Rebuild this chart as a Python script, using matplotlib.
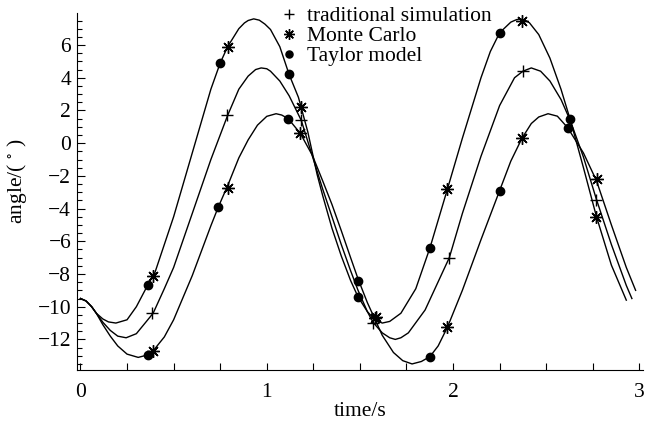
import numpy as np
import matplotlib
matplotlib.use("Agg")
import matplotlib.pyplot as plt
from matplotlib.ticker import MultipleLocator

# three curves (upper / middle / lower)
upper_t = [0, 0.03, 0.06, 0.085, 0.12, 0.15, 0.19, 0.25, 0.3, 0.36, 0.4, 0.5, 0.6, 0.7, 0.75, 0.79,
           0.85, 0.88, 0.9, 0.93, 0.96, 0.99, 1.02, 1.07, 1.12, 1.17, 1.22, 1.27, 1.3, 1.35, 1.4,
           1.45, 1.49, 1.54, 1.58, 1.62, 1.66, 1.72, 1.8, 1.876, 1.97, 2.05, 2.15, 2.2, 2.25,
           2.31, 2.34, 2.36, 2.39, 2.41, 2.46, 2.52, 2.58, 2.63, 2.7, 2.77, 2.85, 2.93]
upper_v = [-9.5, -9.65, -10.0, -10.4, -10.75, -10.93, -11.0, -10.8, -10.0, -8.7, -7.9, -4.5, -0.6,
           3.3, 4.9, 5.9, 7.0, 7.35, 7.5, 7.6, 7.52, 7.28, 6.95, 5.9, 4.2, 2.8, 0.7, -1.9, -3.2,
           -5.2, -6.9, -8.4, -9.4, -10.3, -10.8, -11.0, -10.9, -10.4, -8.9, -6.4, -2.8, 0.3, 4.0,
           5.6, 6.75, 7.4, 7.55, 7.6, 7.5, 7.36, 6.64, 5.2, 3.28, 1.4, -1.5, -4.5, -7.46, -9.6]

middle_t = [0, 0.03, 0.06, 0.085, 0.12, 0.16, 0.2, 0.245, 0.3, 0.39, 0.45, 0.5, 0.6, 0.7, 0.79,
            0.85, 0.9, 0.94, 0.97, 1.0, 1.02, 1.07, 1.12, 1.185, 1.245, 1.3, 1.35, 1.4, 1.45, 1.49,
            1.54, 1.57, 1.62, 1.66, 1.69, 1.72, 1.76, 1.85, 1.98, 2.05, 2.15, 2.25, 2.33, 2.375,
            2.42, 2.47, 2.52, 2.58, 2.63, 2.7, 2.77, 2.85, 2.93, 2.96]
middle_v = [-9.5, -9.65, -10.0, -10.4, -10.95, -11.45, -11.8, -11.9, -11.65, -10.4, -8.9, -7.6,
            -4.3, -1.0, 1.7, 3.3, 4.1, 4.5, 4.6, 4.55, 4.4, 3.8, 2.9, 1.4, -0.8, -2.8, -4.5, -6.2,
            -7.8, -9.0, -10.3, -10.95, -11.6, -11.9, -12.0, -11.9, -11.6, -10.2, -7.0, -4.3, -0.8,
            2.3, 4.0, 4.4, 4.6, 4.4, 3.8, 2.66, 1.36, -0.85, -3.45, -6.2, -8.7, -9.5]

lower_t = [0, 0.03, 0.06, 0.085, 0.12, 0.16, 0.2, 0.25, 0.31, 0.36, 0.39, 0.45, 0.5, 0.6, 0.7,
           0.74, 0.79, 0.85, 0.9, 0.95, 1.0, 1.05, 1.08, 1.115, 1.18, 1.245, 1.3, 1.35, 1.4, 1.45,
           1.49, 1.54, 1.58, 1.62, 1.68, 1.73, 1.78, 1.83, 1.876, 1.92, 1.97, 2.05, 2.15, 2.25,
           2.31, 2.37, 2.42, 2.46, 2.51, 2.56, 2.615, 2.7, 2.77, 2.85, 2.93, 2.98]
lower_v = [-9.5, -9.65, -10.0, -10.4, -11.1, -11.8, -12.4, -12.9, -13.1, -12.95, -12.7, -11.85,
           -10.8, -8.1, -5.05, -3.9, -2.6, -0.9, 0.2, 1.1, 1.64, 1.8, 1.72, 1.5, 0.6, -0.75, -2.3,
           -3.75, -5.35, -7.0, -8.3, -9.75, -10.75, -11.75, -12.8, -13.3, -13.5, -13.35, -13.05,
           -12.4, -11.25, -9.0, -5.9, -2.9, -1.1, 0.3, 1.2, 1.6, 1.8, 1.65, 0.95, -0.6, -2.3,
           -5.0, -7.6, -9.0]

# markers
trad_t = [0.385, 0.785, 1.185, 1.57, 1.98, 2.375, 2.77]
trad_v = [-10.4, 1.7, 1.4, -11.0, -7.0, 4.4, -3.5]

mc_t = [0.39, 0.39, 0.79, 0.79, 1.185, 1.18, 1.58, 1.585, 1.97, 1.97, 2.37, 2.37, 2.775, 2.77]
mc_v = [-8.1, -12.7, 5.9, -2.75, 2.2, 0.6, -10.7, -10.6, -2.8, -11.25, 7.5, 0.3, -2.2, -4.5]

ty_t = [0.36, 0.36, 0.75, 0.74, 1.12, 1.115, 1.49, 1.49, 1.876, 1.876, 2.25, 2.25, 2.63, 2.615]
ty_v = [-8.7, -12.95, 4.9, -3.9, 4.2, 1.5, -8.4, -9.4, -6.4, -13.1, 6.75, -2.9, 1.45, 0.9]

plt.rcParams['font.family'] = ['Liberation Serif', 'DejaVu Serif']
plt.rcParams['font.size'] = 15.5
plt.rcParams['mathtext.fontset'] = 'stix'

fig = plt.figure(figsize=(6.45, 4.24), dpi=100)
ax = fig.add_axes([0.119, 0.127, 0.878, 0.842])

for t, v in [(upper_t, upper_v), (middle_t, middle_v), (lower_t, lower_v)]:
    ax.plot(t, v, color='black', lw=1.0)

ax.plot(trad_t, trad_v, ls='none', marker='+', ms=9, mew=1.0, color='black',
        label='traditional simulation')
ax.plot(mc_t, mc_v, ls='none', marker=(8, 2, 0), ms=9, mew=1.0, color='black',
        label='Monte Carlo')
ax.plot(ty_t, ty_v, ls='none', marker='o', ms=6, color='black', label='Taylor model')

ax.set_xlim(-0.02, 3.02)
ax.set_ylim(-13.88, 7.95)
ax.spines['top'].set_visible(False)
ax.spines['right'].set_visible(False)
ax.xaxis.set_major_locator(MultipleLocator(1))
ax.xaxis.set_minor_locator(MultipleLocator(0.25))
ax.yaxis.set_major_locator(MultipleLocator(2))
ax.yaxis.set_minor_locator(MultipleLocator(0.5))
ax.tick_params(which='both', direction='in', width=0.8)
ax.tick_params(axis='y', which='major', length=6, pad=4)
ax.tick_params(axis='y', which='minor', length=3.5)
ax.tick_params(axis='x', which='both', length=5, pad=9)

ax.set_xlabel('time/s', labelpad=0)
ax.set_ylabel('angle/( $^{\\circ}$ )', labelpad=6)
ax.yaxis.set_label_coords(-0.085, 0.53)

leg = ax.legend(loc='upper left', bbox_to_anchor=(0.362, 1.02), frameon=False,
                handlelength=0.7, handletextpad=0.45, borderpad=0, labelspacing=0.0,
                borderaxespad=0, markerscale=0.85)

fig.savefig('out.png', dpi=100)
